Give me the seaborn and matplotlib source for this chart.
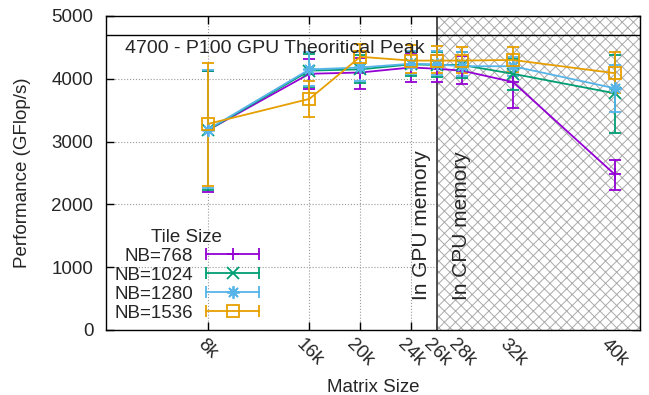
import pandas as pd
import seaborn as sns
import matplotlib.pyplot as plt
from matplotlib.legend_handler import HandlerBase
from matplotlib.lines import Line2D

# matrix size (in k)
sizes = [8, 16, 20, 24, 26, 28, 32, 40]
size_labels = ["8k", "16k", "20k", "24k", "26k", "28k", "32k", "40k"]
tiles = ["NB=768", "NB=1024", "NB=1280", "NB=1536"]

# mean perf + min/max (GFlop/s)
perf_768 = [3180, 4080, 4100, 4180, 4160, 4130, 3950, 2480]
low_768 = [2200, 3830, 3830, 3950, 3950, 3910, 3530, 2230]
high_768 = [4130, 4320, 4330, 4400, 4380, 4360, 4200, 2700]

perf_1024 = [3180, 4130, 4150, 4230, 4220, 4220, 4080, 3770]
low_1024 = [2230, 3870, 3930, 4050, 4030, 4010, 3820, 3140]
high_1024 = [4130, 4390, 4380, 4420, 4420, 4430, 4320, 4380]

perf_1280 = [3190, 4150, 4180, 4240, 4230, 4200, 4200, 3850]
low_1280 = [2260, 3890, 3960, 4080, 4060, 4040, 4050, 3475]
high_1280 = [4140, 4420, 4420, 4440, 4440, 4430, 4340, 4220]

perf_1536 = [3280, 3680, 4350, 4290, 4290, 4290, 4300, 4090]
low_1536 = [2300, 3390, 4170, 4090, 4100, 4090, 4110, 3770]
high_1536 = [4250, 3960, 4550, 4540, 4530, 4510, 4500, 4430]

peak = 4700
gpu_limit = 26

perf = [perf_768, perf_1024, perf_1280, perf_1536]
lows = [low_768, low_1024, low_1280, low_1536]
highs = [high_768, high_1024, high_1280, high_1536]

colors = {"NB=768": "#9400d3", "NB=1024": "#009e73", "NB=1280": "#56b4e9", "NB=1536": "#e69f00"}
marks = {"NB=768": "+", "NB=1024": "x", "NB=1280": (8, 2, 0), "NB=1536": "s"}

rows = []
for t, p in zip(tiles, perf):
    for s, v in zip(sizes, p):
        rows.append({"size": s, "perf": v, "tile": t})
df = pd.DataFrame(rows)

sns.set_style("ticks")
plt.rcParams['font.family'] = ['Liberation Sans', 'DejaVu Sans']
plt.rcParams['hatch.linewidth'] = 0.7

fs = 13.5

fig = plt.figure(figsize=(6.49, 3.95), dpi=100)
ax = fig.add_axes([0.1633, 0.1646, 0.8228, 0.7949])

# CPU memory zone
ax.axvspan(gpu_limit, 42, facecolor='white', edgecolor='#aaaaaa', hatch='xxx', linewidth=0, zorder=1)
ax.axvline(gpu_limit, color='#333333', lw=1.2, zorder=2)
ax.axhline(peak, color='black', lw=1, zorder=2)

n0 = len(ax.lines)
sns.lineplot(data=df, x='size', y='perf', hue='tile', hue_order=tiles,
             palette=colors, marker='o', markersize=9,
             lw=1.3, legend=False, ax=ax, zorder=4)
series_lines = ax.lines[n0:]
for ln, t in zip(series_lines, tiles):
    ln.set_marker(marks[t])
    ln.set_markerfacecolor('none')
    ln.set_markeredgecolor(colors[t])
    ln.set_markeredgewidth(1.3)

for t, p, lo, hi in zip(tiles, perf, lows, highs):
    err = [[v - a for v, a in zip(p, lo)], [b - v for v, b in zip(p, hi)]]
    ax.errorbar(sizes, p, yerr=err, fmt='none', ecolor=colors[t], elinewidth=1.3,
                capsize=4, capthick=1.3, zorder=3)

ax.text(1.5, 4490, "4700 - P100 GPU Theoritical Peak", fontsize=14, va='center', zorder=5)
ax.text(24.8, 480, "In GPU memory", rotation=90, fontsize=15, ha='center', va='bottom', zorder=5)
ax.text(28.0, 480, "In CPU memory", rotation=90, fontsize=15, ha='center', va='bottom', zorder=5)

ax.set_xlim(0, 42)
ax.set_ylim(0, 5000)
ax.set_xticks(sizes)
ax.set_xticklabels(size_labels, rotation=-45, fontsize=fs)
ax.set_yticks(range(0, 5001, 1000))
ax.tick_params(axis='y', labelsize=fs, pad=9)
ax.tick_params(direction='in', length=6, width=1, top=True, right=True, color='black')
ax.tick_params(axis='x', pad=4)
ax.grid(True, ls=':', color='#999999', lw=0.8, zorder=0)
ax.set_axisbelow(True)
for sp in ax.spines.values():
    sp.set_color('black')
    sp.set_linewidth(1)
    sp.set_zorder(6)
ax.set_xlabel("Matrix Size", fontsize=fs, labelpad=7)
ax.set_ylabel("Performance (GFlop/s)", fontsize=fs, labelpad=15)


class ErrKey(HandlerBase):
    def create_artists(self, legend, h, xd, yd, w, ht, fs, trans):
        y = ht / 2 - yd
        x0, x1 = -xd, w - xd
        c = h.get_markeredgecolor()
        line = Line2D([x0, x1], [y, y], color=c, lw=1.3, transform=trans)
        caps = Line2D([x0, x1], [y, y], ls='none', marker='|', ms=8, mew=1.3, color=c, transform=trans)
        mk = Line2D([(x0 + x1) / 2], [y], ls='none', marker=h.get_marker(), ms=9,
                    mfc='none', mec=c, mew=1.3, transform=trans)
        return [line, caps, mk]


leg = ax.legend(series_lines, tiles, handler_map={Line2D: ErrKey()}, markerfirst=False,
                title="Tile Size", frameon=False, loc='lower left', fontsize=fs,
                title_fontsize=fs, handlelength=2.8, handletextpad=0.7, labelspacing=0.1,
                borderaxespad=0.25, borderpad=0.2)
leg.set_zorder(7)

plt.savefig("out.png", dpi=100)
